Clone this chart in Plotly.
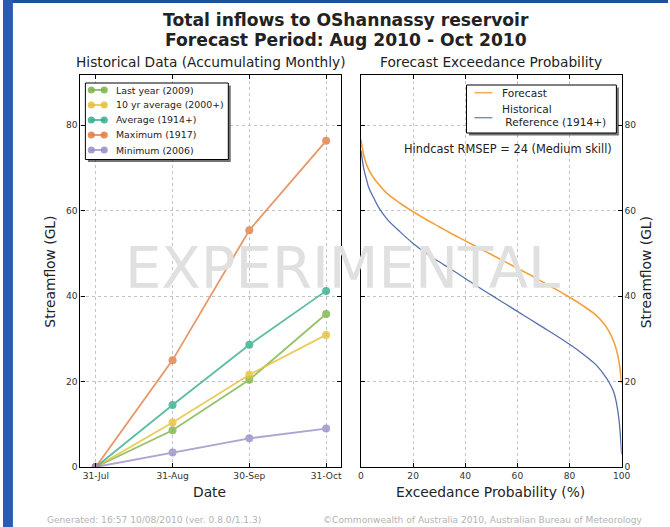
import plotly.graph_objects as go

# ---------------- data ----------------
dates = ["31-Jul", "31-Aug", "30-Sep", "31-Oct"]
last_year_2009 = [0, 8.6, 20.4, 35.8]
ten_yr_avg = [0, 10.4, 21.6, 30.9]
average_1914 = [0, 14.5, 28.6, 41.2]
maximum_1917 = [0, 25.0, 55.4, 76.3]
minimum_2006 = [0, 3.4, 6.7, 9.0]

exc_prob = [0, 1, 2, 3, 5, 7, 10, 15, 20, 25, 30, 35, 40, 45, 50, 55, 60, 65,
            70, 75, 80, 85, 90, 93, 95, 97, 98, 99, 100]
forecast = [76.5, 73.0, 71.0, 69.5, 67.5, 66.0, 64.0, 61.7, 59.7, 57.9, 56.2,
            54.5, 52.9, 51.3, 49.7, 48.1, 46.5, 44.9, 43.2, 41.5, 39.7, 37.8,
            35.6, 33.7, 31.9, 29.3, 27.4, 24.6, 19.5]
historical = [74.0, 70.0, 67.5, 65.3, 62.8, 60.5, 58.0, 55.0, 52.3, 50.0, 48.0,
              46.1, 44.1, 42.1, 40.2, 38.3, 36.4, 34.5, 32.6, 30.7, 28.7, 26.5,
              24.0, 21.8, 20.0, 17.5, 15.0, 11.0, 3.0]

y_ticks = [0, 20, 40, 60, 80]
x2_ticks = [0, 20, 40, 60, 80, 100]

# reference-pixel frame
W, H = 670, 527
# the page is photographed slightly scaled; compensate
FIG_W, FIG_H = 677, 532
K = 1.01  # size compensation

def px(x):
    return x / W
def py(y):
    return 1 - y / H
def fs(s):
    return s * K

hist_series = [
    ("Last year (2009)", last_year_2009, "#7cb347"),
    ("10 yr average (2000+)", ten_yr_avg, "#e6c035"),
    ("Average (1914+)", average_1914, "#35ad8e"),
    ("Maximum (1917)", maximum_1917, "#e07f45"),
    ("Minimum (2006)", minimum_2006, "#9a8dc6"),
]
fc_color = "#f4a03c"
hist_color = "#5670aa"

fig = go.Figure()
for name, vals, col in hist_series:
    fig.add_trace(go.Scatter(
        x=dates, y=vals, name=name, mode="lines+markers",
        line=dict(color=col, width=1.8),
        marker=dict(color=col, size=8),
        opacity=0.8, xaxis="x", yaxis="y", showlegend=False))

fig.add_trace(go.Scatter(x=exc_prob, y=forecast, name="Forecast", mode="lines",
                         line=dict(color=fc_color, width=1.6, shape="spline"),
                         xaxis="x2", yaxis="y2", showlegend=False))
fig.add_trace(go.Scatter(x=exc_prob, y=historical, name="Historical Reference (1914+)",
                         mode="lines", line=dict(color=hist_color, width=1.3, shape="spline"),
                         xaxis="x2", yaxis="y2", showlegend=False))

tickfont = dict(family="DejaVu Sans", size=fs(9), color="#333")
common_axis = dict(showline=True, linecolor="black", linewidth=1.2, mirror="ticks",
                   ticks="inside", ticklen=4, tickcolor="black", tickfont=tickfont,
                   showgrid=True, gridcolor="#c4c4c4", griddash="dot", gridwidth=1,
                   zeroline=False, fixedrange=True)

fig.update_layout(
    width=FIG_W, height=FIG_H,
    margin=dict(l=0, r=0, t=0, b=0, pad=0),
    paper_bgcolor="white", plot_bgcolor="white",
    font=dict(family="DejaVu Sans", color="#222"),
    xaxis=dict(domain=[px(78), px(341)], anchor="y", type="category",
               range=[-0.2, 3.2], tickvals=dates, ticktext=dates, **common_axis),
    yaxis=dict(domain=[py(467), py(75)], anchor="x", range=[0, 91.7],
               tickvals=y_ticks, **common_axis),
    xaxis2=dict(domain=[px(360.7), px(623.3)], anchor="y2", range=[0, 100],
                tickvals=x2_ticks, **common_axis),
    yaxis2=dict(domain=[py(467), py(75)], anchor="x2", range=[0, 91.7], side="right",
                tickvals=y_ticks, **common_axis),
    showlegend=False,
)

ann = []
def text(x, y, s, size, color="#222", bold=False, angle=0, xanchor="center"):
    ann.append(dict(x=px(x), y=py(y), xref="paper", yref="paper",
                    text=("<b>%s</b>" % s if bold else s),
                    showarrow=False, xanchor=xanchor, yanchor="middle", textangle=angle,
                    font=dict(family="DejaVu Sans", size=fs(size), color=color)))

shapes = [
    dict(type="rect", xref="paper", yref="paper", x0=0, x1=1, y0=py(3), y1=1,
         fillcolor="#1d4f9f", line=dict(width=0), layer="below"),
    dict(type="rect", xref="paper", yref="paper", x0=0, x1=px(10), y0=0, y1=1,
         fillcolor="#2a5bb0", line=dict(width=0), layer="below"),
]

def rect(x0, y0, x1, y1, fill, line_col=None, lw=0):
    shapes.append(dict(type="rect", xref="paper", yref="paper",
                       x0=px(x0), x1=px(x1), y0=py(y1), y1=py(y0),
                       fillcolor=fill, line=dict(color=line_col or fill, width=lw),
                       layer="above"))

def seg(x0, x1, y, col, w):
    shapes.append(dict(type="line", xref="paper", yref="paper",
                       x0=px(x0), x1=px(x1), y0=py(y), y1=py(y),
                       line=dict(color=col, width=w), layer="above", opacity=0.85))

def dot(cx, cy, r, col):
    shapes.append(dict(type="circle", xref="paper", yref="paper",
                       x0=px(cx - r), x1=px(cx + r), y0=py(cy + r), y1=py(cy - r),
                       fillcolor=col, line=dict(width=0), layer="above", opacity=0.85))

# watermark
text(342, 268, "EXPERIMENTAL", 57, color="#e0e0e0")

# left legend (with drop shadow)
rect(85.5, 85.5, 229.5, 162, "rgba(0,0,0,0.55)")
rect(83, 83, 227, 159.5, "white", "black", 1)
leg_y = [90, 105, 120, 135, 150]
for (name, vals, col), ly in zip(hist_series, leg_y):
    seg(88, 103, ly, col, 1.8)
    dot(89, ly, 3.6, col)
    dot(102, ly, 3.6, col)
    text(112, ly, name, 9.3, xanchor="left")

# right legend (with drop shadow)
rect(469.5, 87.5, 620.5, 135.5, "rgba(0,0,0,0.55)")
rect(467, 85, 618, 133, "white", "black", 1)
seg(475, 493, 92.7, fc_color, 1.6)
text(501, 92.7, "Forecast", 10.5, xanchor="left")
seg(475, 493, 117.7, hist_color, 1.3)
text(501, 109.3, "Historical", 10.5, xanchor="left")
text(501, 121.7, " Reference (1914+)", 10.5, xanchor="left")

text(346, 20, "Total inflows to OShannassy reservoir", 17, bold=True)
text(346, 40, "Forecast Period: Aug 2010 - Oct 2010", 17, bold=True)
text(210, 62, "Historical Data (Accumulating Monthly)", 13.6)
text(492, 62, "Forecast Exceedance Probability", 13.6)
text(208, 492, "Date", 13.7)
text(491, 492, "Exceedance Probability (%)", 13.7)
text(47, 272, "Streamflow (GL)", 13.7, angle=-90)
text(648, 272, "Streamflow (GL)", 13.7, angle=-90)
text(616, 149, "Hindcast RMSEP = 24 (Medium skill)", 11.3, xanchor="right")
text(42, 520, "Generated: 16:57 10/08/2010 (ver. 0.8.0/1.1.3)", 9, color="#b3b3b3", xanchor="left")
text(320, 520, "\u00a9Commonwealth of Australia 2010, Australian Bureau of Meteorology", 9,
     color="#b3b3b3", xanchor="left")

fig.update_layout(annotations=ann, shapes=shapes)

fig.write_html(
    "out.html",
    config={"displayModeBar": False},
    post_script=("document.documentElement.style.margin='0';"
                 "document.documentElement.style.overflow='hidden';"
                 "document.body.style.margin='0';"
                 "document.body.style.overflow='hidden';"),
)
